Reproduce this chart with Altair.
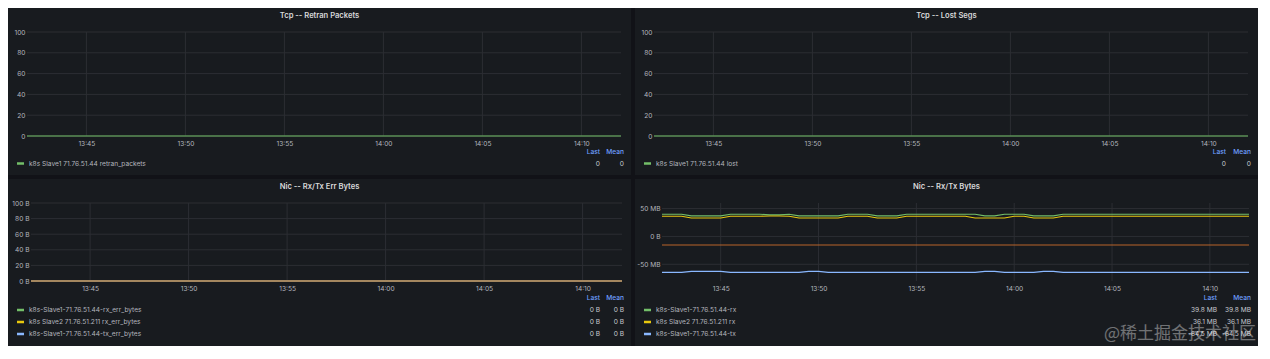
import altair as alt
import pandas as pd

# ------------------------------------------------------------------ data
DAY = "2023-01-01"
T_1MIN = [t.strftime("%Y-%m-%dT%H:%M:%S") for t in
          pd.date_range(f"{DAY} 13:42:00", f"{DAY} 14:12:00", freq="1min")]   # 31 samples
T_30S = [t.strftime("%Y-%m-%dT%H:%M:%S") for t in
         pd.date_range(f"{DAY} 13:42:00", f"{DAY} 14:12:00", freq="30s")]     # 61 samples

X_TICKS = ["13:45", "13:50", "13:55", "14:00", "14:05", "14:10"]

# Tcp panels (flat zero)
RETRAN_PACKETS = [0, 0, 0, 0, 0, 0, 0, 0, 0, 0, 0, 0, 0, 0, 0, 0,
                  0, 0, 0, 0, 0, 0, 0, 0, 0, 0, 0, 0, 0, 0, 0]
LOST_SEGS = [0, 0, 0, 0, 0, 0, 0, 0, 0, 0, 0, 0, 0, 0, 0, 0,
             0, 0, 0, 0, 0, 0, 0, 0, 0, 0, 0, 0, 0, 0, 0]

# Nic err bytes (flat zero)
RX_ERR_S1 = [0, 0, 0, 0, 0, 0, 0, 0, 0, 0, 0, 0, 0, 0, 0, 0,
             0, 0, 0, 0, 0, 0, 0, 0, 0, 0, 0, 0, 0, 0, 0]
RX_ERR_S2 = [0, 0, 0, 0, 0, 0, 0, 0, 0, 0, 0, 0, 0, 0, 0, 0,
             0, 0, 0, 0, 0, 0, 0, 0, 0, 0, 0, 0, 0, 0, 0]
TX_ERR_S1 = [0, 0, 0, 0, 0, 0, 0, 0, 0, 0, 0, 0, 0, 0, 0, 0,
             0, 0, 0, 0, 0, 0, 0, 0, 0, 0, 0, 0, 0, 0, 0]
TX_ERR_S2 = [0, 0, 0, 0, 0, 0, 0, 0, 0, 0, 0, 0, 0, 0, 0, 0,
             0, 0, 0, 0, 0, 0, 0, 0, 0, 0, 0, 0, 0, 0, 0]

# Nic Rx/Tx bytes in MB, 30 s samples
RX_S1 = [39.8, 39.8, 39.8, 36.9, 36.9, 36.9, 36.9, 39.8, 39.8, 39.8,
         39.8, 38.6, 38.6, 39.8, 36.9, 36.9, 36.9, 36.9, 36.9, 39.8,
         39.8, 39.8, 36.9, 36.9, 36.9, 39.8, 39.8, 39.8, 39.8, 39.8,
         39.8, 39.8, 39.8, 36.9, 36.9, 39.8, 39.8, 39.8, 36.9, 36.9,
         36.9, 39.8, 39.8, 39.8, 39.8, 39.8, 39.8, 39.8, 39.8, 39.8,
         39.8, 39.8, 39.8, 39.8, 39.8, 39.8, 39.8, 39.8, 39.8, 39.8, 39.8]
RX_S2 = [36.1, 36.1, 36.1, 33.2, 33.2, 33.2, 33.2, 36.1, 36.1, 36.1,
         36.1, 36.8, 36.8, 36.1, 33.2, 33.2, 33.2, 33.2, 33.2, 36.1,
         36.1, 36.1, 33.2, 33.2, 33.2, 36.1, 36.1, 36.1, 36.1, 36.1,
         36.1, 36.1, 33.2, 33.2, 33.2, 33.2, 36.1, 36.1, 33.2, 33.2,
         33.2, 36.1, 36.1, 36.1, 36.1, 36.1, 36.1, 36.1, 36.1, 36.1,
         36.1, 36.1, 36.1, 36.1, 36.1, 36.1, 36.1, 36.1, 36.1, 36.1, 36.1]
TX_S1 = [-64.5, -64.5, -64.5, -62.8, -62.8, -62.8, -62.8, -64.5, -64.5, -64.5,
         -64.5, -64.5, -64.5, -64.5, -64.5, -62.8, -62.8, -64.5, -64.5, -64.5,
         -64.5, -64.5, -64.5, -64.5, -64.5, -64.5, -64.5, -64.5, -64.5, -64.5,
         -64.5, -64.5, -64.5, -62.8, -62.8, -64.5, -64.5, -64.5, -64.5, -62.8,
         -62.8, -64.5, -64.5, -64.5, -64.5, -64.5, -64.5, -64.5, -64.5, -64.5,
         -64.5, -64.5, -64.5, -64.5, -64.5, -64.5, -64.5, -64.5, -64.5, -64.5, -64.5]
TX_S2 = [-15.3, -15.3, -15.3, -15.3, -15.3, -15.3, -15.3, -15.3, -15.3, -15.3,
         -15.3, -15.3, -15.3, -15.3, -15.3, -15.3, -15.3, -15.3, -15.3, -15.3,
         -15.3, -15.3, -15.3, -15.3, -15.3, -15.3, -15.3, -15.3, -15.3, -15.3,
         -15.3, -15.3, -15.3, -15.3, -15.3, -15.3, -15.3, -15.3, -15.3, -15.3,
         -15.3, -15.3, -15.3, -15.3, -15.3, -15.3, -15.3, -15.3, -15.3, -15.3,
         -15.3, -15.3, -15.3, -15.3, -15.3, -15.3, -15.3, -15.3, -15.3, -15.3, -15.3]

TITLES = ["Tcp -- Retran Packets", "Tcp -- Lost Segs",
          "Nic -- Rx/Tx Err Bytes", "Nic -- Rx/Tx Bytes"]

Y_TICKS_COUNT = [0, 20, 40, 60, 80, 100]
Y_LABELS_COUNT = ["0", "20", "40", "60", "80", "100"]
Y_TICKS_ERR = [0, 20, 40, 60, 80, 100]
Y_LABELS_ERR = ["0 B", "20 B", "40 B", "60 B", "80 B", "100 B"]
Y_TICKS_BYTES = [-50, 0, 50]
Y_LABELS_BYTES = ["-50 MB", "0 B", "50 MB"]

LEGEND_HEAD = ["Last", "Mean"]

# ------------------------------------------------------------------ style
BG = "#111217"
PANEL = "#181b1f"
GRID = "#2c2e33"
TXT = "#b4b6be"
TITLE_C = "#d8d9da"
BLUE_HEAD = "#6e9fff"
GREEN, YELLOW, LBLUE, ORANGE = "#73bf69", "#e8c80e", "#8ab8ff", "#b8642a"
FONT = "Inter"
W, H = 623, 167


def dt(h, m):
    return alt.DateTime(year=2023, month=1, date=1, hours=h, minutes=m)


def label_expr(ticks, labels):
    expr = f"'{labels[-1]}'"
    for v, l in reversed(list(zip(ticks[:-1], labels[:-1]))):
        expr = f"datum.value == {v} ? '{l}' : " + expr
    return expr


def txt(s, x, y, align="left", color=TXT, size=6.6, weight=400, font=FONT, opacity=1.0):
    return alt.Chart(pd.DataFrame({"s": [s]})).mark_text(
        align=align, baseline="middle", color=color, fontSize=size,
        fontWeight=weight, font=font, opacity=opacity
    ).encode(text="s:N", x=alt.value(x), y=alt.value(y))


def panel(title, series, legend_rows, y_dom, y_ticks, y_labels,
          x_range, y_range, head_y, row_ys, last_x, mean_x, extra=None):
    xs = alt.Scale(domain=[dt(13, 42), dt(14, 12)], range=list(x_range), nice=False)
    ys = alt.Scale(domain=list(y_dom), range=list(y_range), nice=False, zero=False)
    tick_times = [f"{DAY}T{t}:00" for t in X_TICKS]

    xaxis = alt.Axis(format="%H:%M", values=[dt(int(t[:2]), int(t[3:])) for t in X_TICKS],
                     grid=False, domain=False, ticks=False, labelColor=TXT,
                     labelFont=FONT, labelFontSize=6.6, labelPadding=4,
                     offset=-(H - y_range[0]), title=None, labelFlush=False)
    yaxis = alt.Axis(values=y_ticks, labelExpr=label_expr(y_ticks, y_labels),
                     grid=False, domain=False, ticks=False, labelColor=TXT,
                     labelFont=FONT, labelFontSize=6.6, labelPadding=2,
                     offset=-x_range[0], title=None, labelFlush=False)

    layers = []
    # vertical grid
    layers.append(alt.Chart(pd.DataFrame({"t": tick_times})).mark_rule(
        color=GRID, strokeWidth=1).encode(
        x=alt.X("t:T", scale=xs, axis=xaxis),
        y=alt.YDatum(y_dom[0], type="quantitative", scale=ys, axis=yaxis),
        y2=alt.Y2Datum(y_dom[1])))
    # horizontal grid
    layers.append(alt.Chart(pd.DataFrame({"v": y_ticks})).mark_rule(
        color=GRID, strokeWidth=1).encode(
        y=alt.Y("v:Q", scale=ys, axis=yaxis),
        x=alt.XDatum(dt(13, 42), type="temporal", scale=xs, axis=xaxis),
        x2=alt.X2Datum(dt(14, 12))))
    # series lines
    for times, vals, color in series:
        df = pd.DataFrame({"t": times, "v": vals})
        layers.append(alt.Chart(df).mark_line(color=color, strokeWidth=1.1).encode(
            x=alt.X("t:T", scale=xs, axis=xaxis),
            y=alt.Y("v:Q", scale=ys, axis=yaxis)))
    # title
    layers.append(txt(title, W / 2, 8, align="center", color=TITLE_C, size=7.6, weight=600))
    # legend table
    layers.append(txt(LEGEND_HEAD[0], last_x, head_y, align="right", color=BLUE_HEAD, weight=500))
    layers.append(txt(LEGEND_HEAD[1], mean_x, head_y, align="right", color=BLUE_HEAD, weight=500))
    for (name, color, last, mean), ry in zip(legend_rows, row_ys):
        layers.append(alt.Chart(pd.DataFrame({"s": [name]})).mark_rule(
            color=color, strokeWidth=2.5).encode(
            x=alt.value(9), x2=alt.value(16), y=alt.value(ry)))
        layers.append(txt(name, 21, ry))
        layers.append(txt(last, last_x, ry, align="right", color="#c8c9d0"))
        layers.append(txt(mean, mean_x, ry, align="right", color="#c8c9d0"))
    if extra:
        layers.extend(extra)
    return alt.layer(*layers).properties(width=W, height=H)


p1 = panel(TITLES[0],
           [(T_1MIN, RETRAN_PACKETS, GREEN)],
           [("k8s Slave1 71.76.51.44 retran_packets", GREEN, "0", "0")],
           (0, 100), Y_TICKS_COUNT, Y_LABELS_COUNT,
           (19, 613), (128, 24), 144, [155.5], 592, 616)
p2 = panel(TITLES[1],
           [(T_1MIN, LOST_SEGS, GREEN)],
           [("k8s Slave1 71.76.51.44 lost", GREEN, "0", "0")],
           (0, 100), Y_TICKS_COUNT, Y_LABELS_COUNT,
           (19, 613), (128, 24), 144, [155.5], 591, 616)
p3 = panel(TITLES[2],
           [(T_1MIN, RX_ERR_S1, GREEN), (T_1MIN, RX_ERR_S2, YELLOW),
            (T_1MIN, TX_ERR_S1, LBLUE), (T_1MIN, TX_ERR_S2, ORANGE)],
           [("k8s-Slave1-71.76.51.44-rx_err_bytes", GREEN, "0 B", "0 B"),
            ("k8s Slave2 71.76.51.211 rx_err_bytes", YELLOW, "0 B", "0 B"),
            ("k8s-Slave1-71.76.51.44-tx_err_bytes", LBLUE, "0 B", "0 B")],
           (0, 100), Y_TICKS_ERR, Y_LABELS_ERR,
           (23, 614), (102, 24), 119, [131, 143, 155], 592, 616)
watermark = [txt("@稀土掘金技术社区", 621, 155, align="right", color="#ffffff",
                 size=17, font="Noto Sans CJK SC", opacity=0.38)]
p4 = panel(TITLES[3],
           [(T_30S, RX_S1, GREEN), (T_30S, RX_S2, YELLOW),
            (T_30S, TX_S1, LBLUE), (T_30S, TX_S2, ORANGE)],
           [("k8s-Slave1-71.76.51.44-rx", GREEN, "39.8 MB", "39.8 MB"),
            ("k8s Slave2 71.76.51.211 rx", YELLOW, "36.1 MB", "36.1 MB"),
            ("k8s-Slave1-71.76.51.44-tx", LBLUE, "-64.5 MB", "-64.5 MB")],
           (-80, 60), Y_TICKS_BYTES, Y_LABELS_BYTES,
           (27, 614), (102, 24), 119, [131, 143, 155], 582, 616, extra=watermark)

chart = alt.vconcat(
    alt.hconcat(p1, p2, spacing=4),
    alt.hconcat(p3, p4, spacing=4),
    spacing=4,
).properties(padding=0, background=BG).configure_view(
    fill=PANEL, strokeWidth=0
)

chart.save("out.html", embed_options={"renderer": "svg", "actions": False})
